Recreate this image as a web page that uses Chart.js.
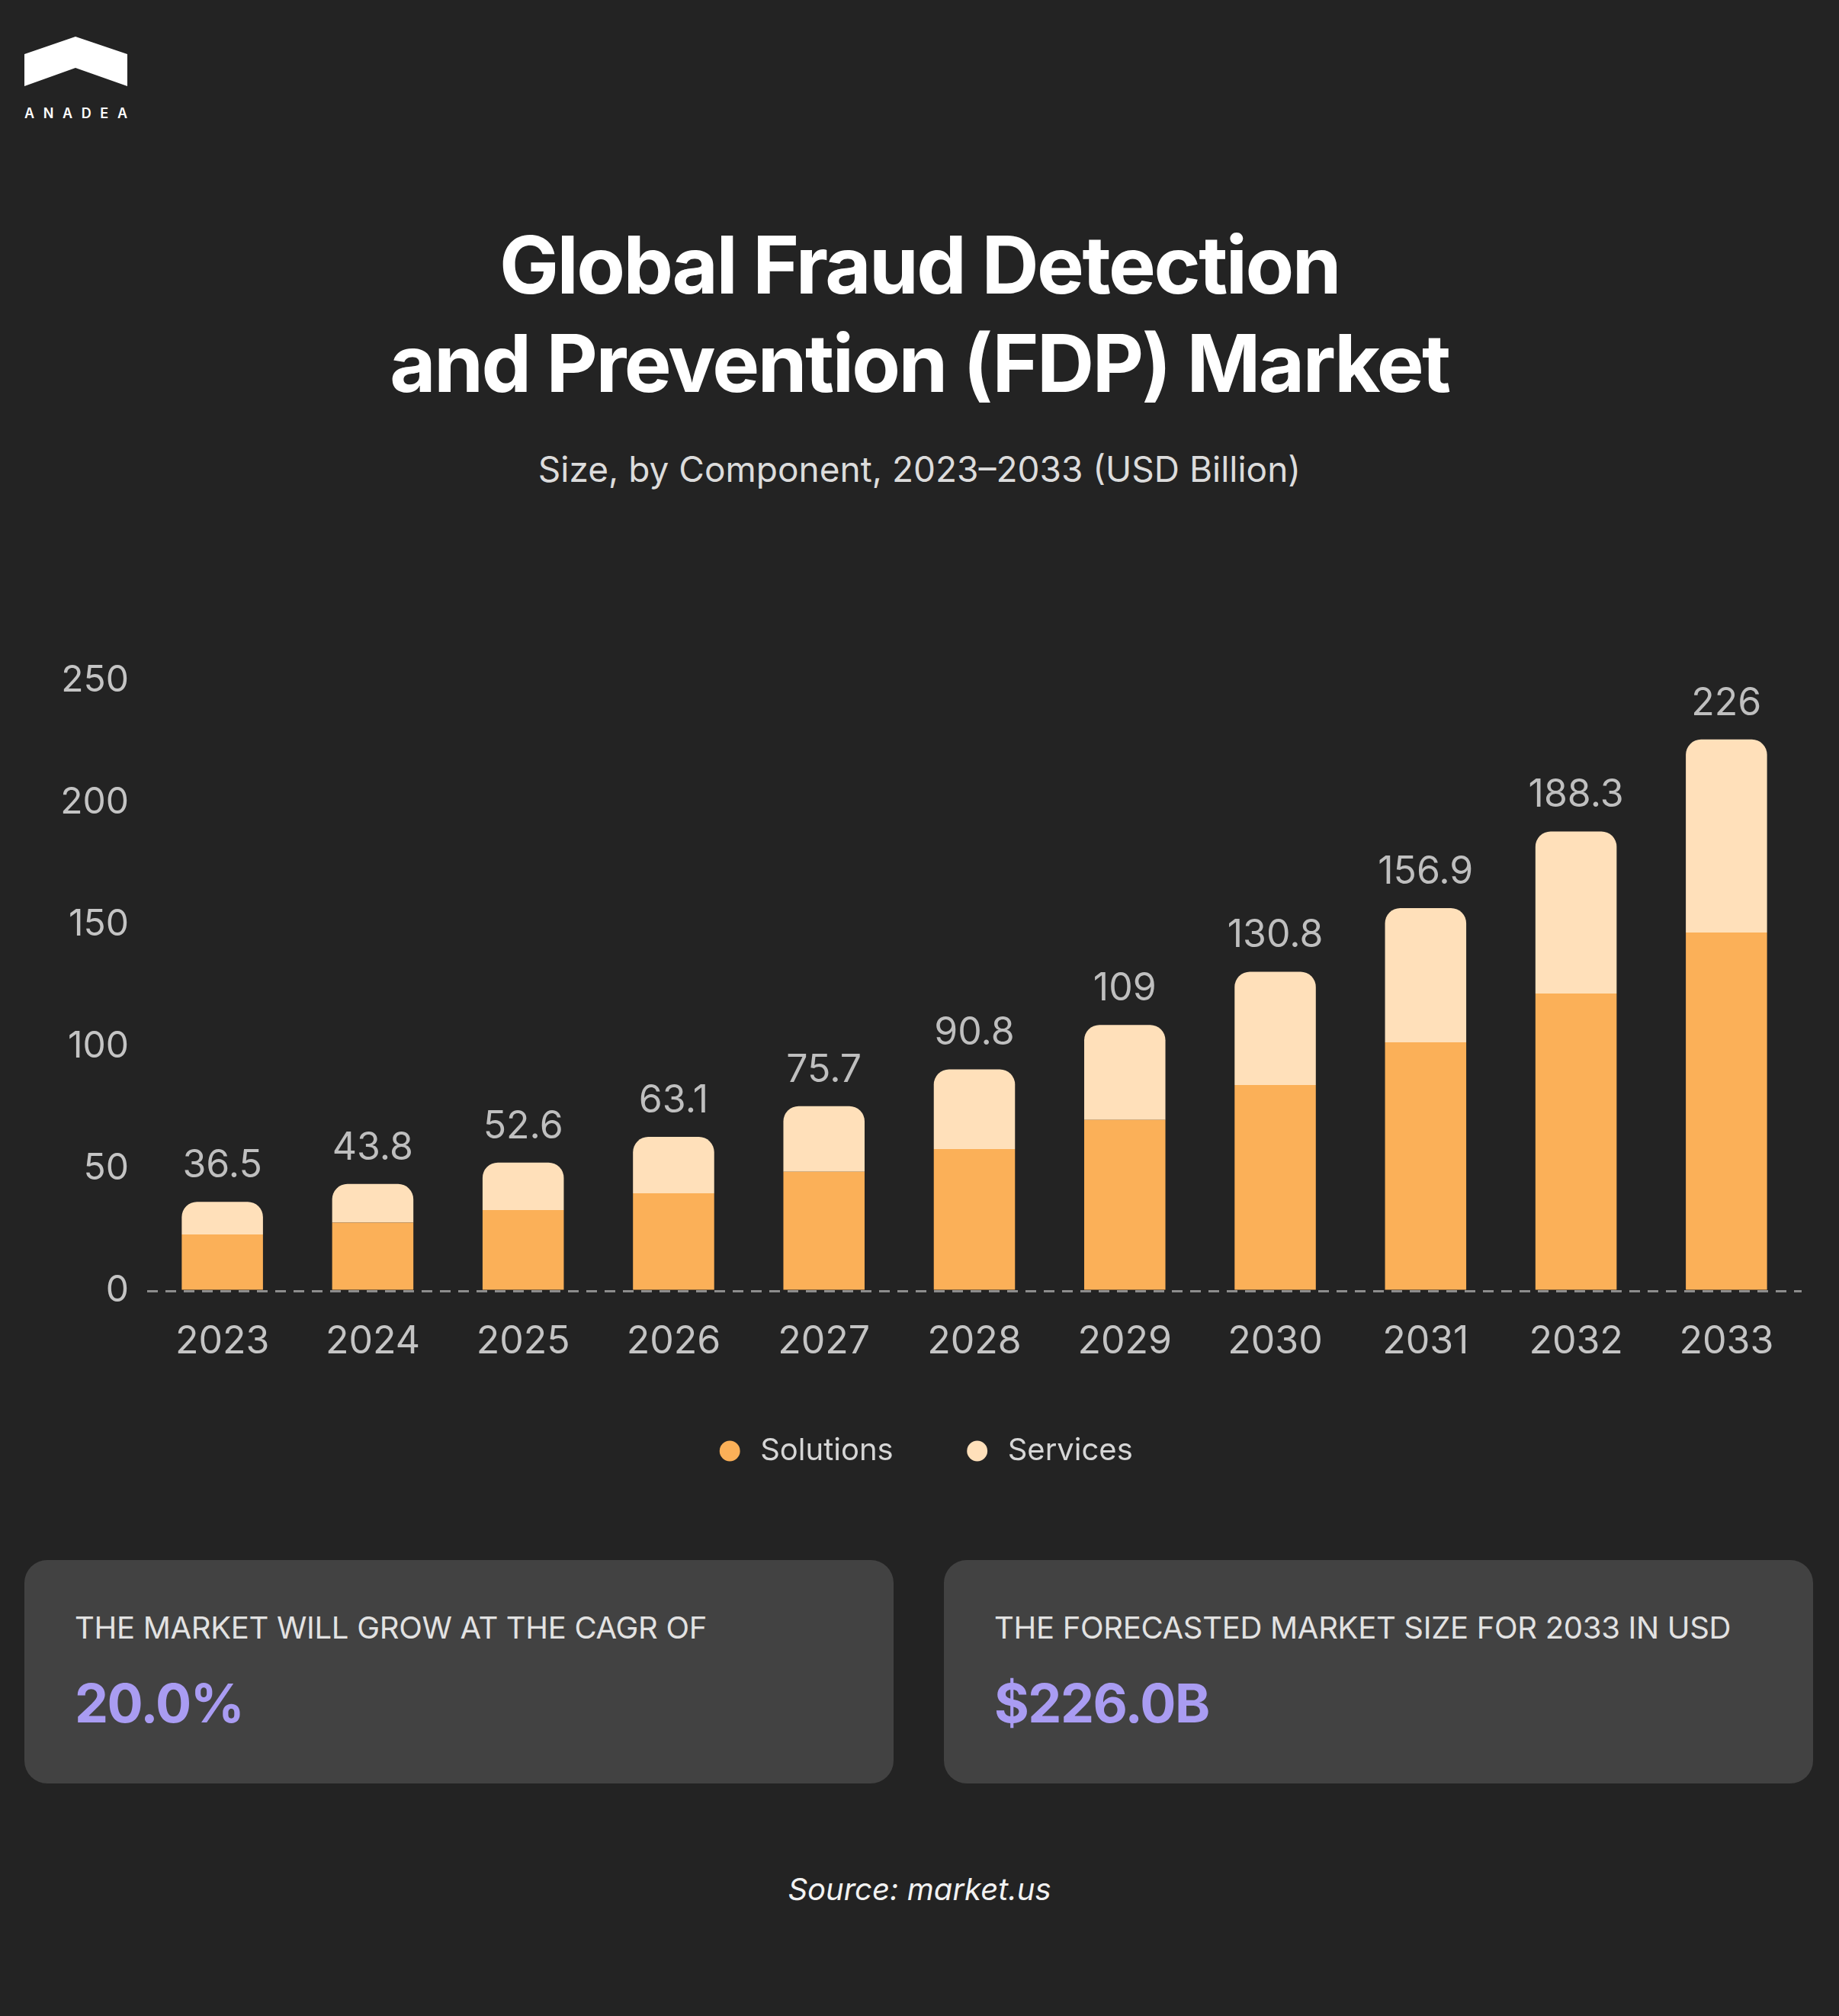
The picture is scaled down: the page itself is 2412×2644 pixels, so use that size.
<!DOCTYPE html>
<html>
<head>
<meta charset="utf-8">
<script src="https://cdn.jsdelivr.net/npm/chart.js@4.4.1/dist/chart.umd.min.js"></script>
<style>
  html, body { margin: 0; padding: 0; background: #232323; }
  body { width: 2412px; height: 2644px; position: relative; overflow: hidden; font-family: Inter, "Noto Sans", sans-serif; }
  .abs { position: absolute; }
  #title { left: 0; width: 2412px; top: 283px; text-align: center; color: #ffffff; font-weight: 700; font-size: 104px; line-height: 129px; letter-spacing: -2.5px; }
  #subtitle { left: 0; width: 2412px; top: 592px; text-align: center; color: #dcdcdc; font-size: 46px; line-height: 46px; letter-spacing: 0px; }
  #chartWrap { left: 0; top: 803px; width: 2412px; height: 1135px; }
  .card { background: #424242; border-radius: 30px; top: 2046px; height: 293px; width: 1140px; }
  .cap { position: absolute; left: 66px; top: 69px; color: #e2e2e2; font-size: 40px; line-height: 40px; letter-spacing: -0.3px; white-space: nowrap; }
  .val { position: absolute; left: 66px; top: 153px; color: #a99cf2; font-size: 70px; line-height: 70px; font-weight: 700; letter-spacing: -1.5px; white-space: nowrap; }
  #source { left: 0; width: 2412px; top: 2458px; text-align: center; color: #f2f2f2; font-size: 40px; line-height: 40px; font-style: italic; }
</style>
</head>
<body>
<svg class="abs" style="left:0;top:0" width="220" height="180" viewBox="0 0 220 180">
  <polygon points="32,71 99,48 167,71 167,113 99,89 32,113" fill="#ffffff"/>
  <text x="32" y="155" fill="#ffffff" font-family="Inter" font-weight="600" font-size="18" textLength="135" lengthAdjust="spacing">ANADEA</text>
</svg>
<div id="title" class="abs">Global Fraud Detection<br>and Prevention (FDP) Market</div>
<div id="subtitle" class="abs">Size, by Component, 2023–2033 (USD Billion)</div>
<div id="chartWrap" class="abs"><canvas id="c" width="2412" height="1135"></canvas></div>
<div class="card abs" style="left:32px"><div class="cap">THE MARKET WILL GROW AT THE CAGR OF</div><div class="val">20.0%</div></div>
<div class="card abs" style="left:1238px"><div class="cap">THE FORECASTED MARKET SIZE FOR 2033 IN USD</div><div class="val">$226.0B</div></div>
<div id="source" class="abs">Source: market.us</div>
<script>
const years = ['2023','2024','2025','2026','2027','2028','2029','2030','2031','2032','2033'];
const solutions = [23.1, 28.0, 33.1, 40.0, 48.8, 58.1, 70.1, 84.4, 101.9, 121.9, 146.9];
const services = [13.4, 15.8, 19.5, 23.1, 26.9, 32.7, 38.9, 46.4, 55.0, 66.4, 79.1];
const totals = [36.5, 43.8, 52.6, 63.1, 75.7, 90.8, 109, 130.8, 156.9, 188.3, 226];
const yTicks = [0, 50, 100, 150, 200, 250];

const totalLabels = {
  id: 'totalLabels',
  afterDatasetsDraw(chart) {
    const ctx = chart.ctx;
    const meta = chart.getDatasetMeta(chart.data.datasets.length - 1);
    ctx.save();
    ctx.font = '400 50px Inter';
    ctx.fillStyle = '#bfbfbf';
    ctx.textAlign = 'center';
    ctx.textBaseline = 'alphabetic';
    meta.data.forEach((bar, i) => {
      ctx.fillText(String(totals[i]), bar.x, bar.y - 32);
    });
    ctx.restore();
  }
};

new Chart(document.getElementById('c'), {
  type: 'bar',
  data: {
    labels: years,
    datasets: [
      { label: 'Solutions', data: solutions, backgroundColor: '#fbb058', borderWidth: 0, borderRadius: 0 },
      { label: 'Services', data: services, backgroundColor: '#ffe0ba', borderWidth: 0,
        borderRadius: { topLeft: 20, topRight: 20, bottomLeft: 0, bottomRight: 0 }, borderSkipped: false }
    ]
  },
  options: {
    responsive: false,
    animation: false,
    devicePixelRatio: 1,
    layout: { padding: { left: 60, right: 49, top: 90, bottom: 5 } },
    datasets: { bar: { categoryPercentage: 1, barPercentage: 0.54 } },
    plugins: {
      tooltip: { enabled: false },
      legend: {
        position: 'bottom',
        labels: {
          usePointStyle: true, pointStyle: 'circle', boxWidth: 40, boxHeight: 19,
          padding: 90, color: '#d6d6d6', font: { family: 'Inter', size: 40 }
        }
      }
    },
    scales: {
      x: {
        stacked: true,
        grid: { display: false },
        border: { display: false },
        ticks: { color: '#c4c4c4', font: { family: 'Inter', size: 50 }, padding: 29, maxRotation: 0 },
        afterFit(s) { s.height = 100; }
      },
      y: {
        stacked: true,
        min: 0, max: 250,
        afterBuildTicks(s) { s.ticks = yTicks.map(v => ({ value: v })); },
        grid: {
          drawTicks: false,
          lineWidth: 3,
          color: (c) => (c.tick && c.tick.value === 0) ? '#8c8c8c' : 'rgba(0,0,0,0)'
        },
        border: { display: false, dash: [14, 10] },
        ticks: { color: '#c4c4c4', font: { family: 'Inter', size: 48 }, padding: 24 },
        afterFit(s) { s.width = 133; }
      }
    }
  },
  plugins: [totalLabels]
});
</script>
</body>
</html>
